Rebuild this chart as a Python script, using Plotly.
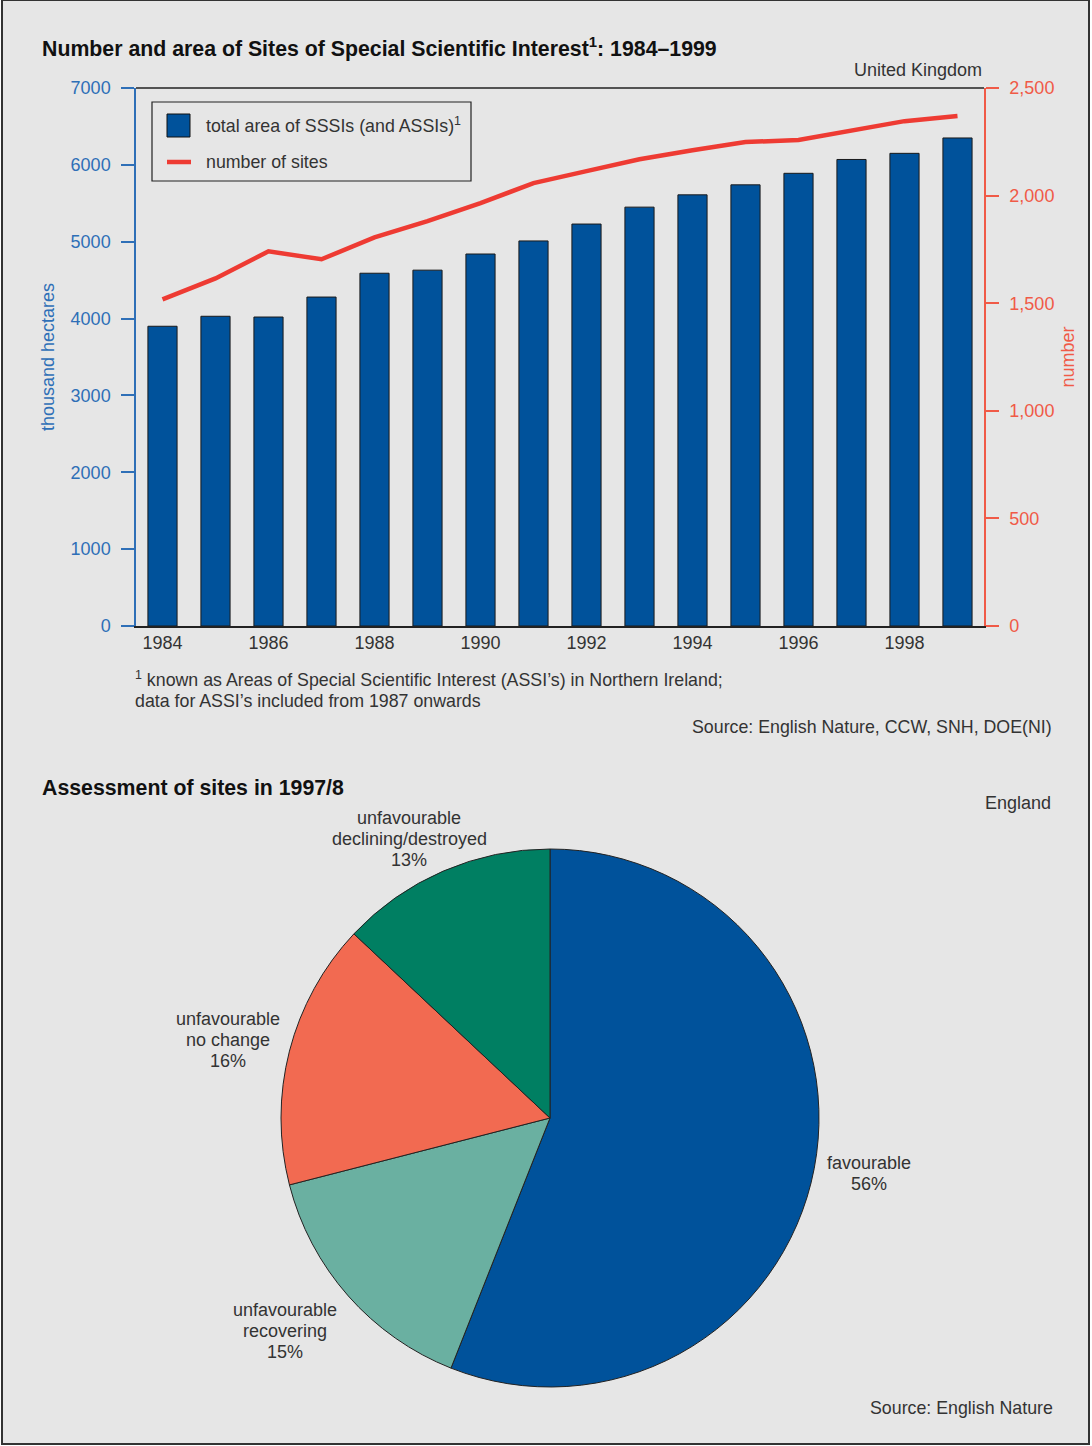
import plotly.graph_objects as go

years = list(range(1984, 2000))
area_thousand_ha = [3900, 4030, 4020, 4280, 4590, 4630, 4840, 5010, 5230, 5450, 5610, 5740, 5890, 6070, 6150, 6350]
number_of_sites = [1518, 1615, 1741, 1704, 1806, 1881, 1965, 2058, 2114, 2169, 2211, 2249, 2258, 2300, 2346, 2370]

pie_labels = ["favourable", "unfavourable recovering", "unfavourable no change", "unfavourable declining/destroyed"]
pie_values = [56, 15, 16, 13]

W, H = 1092, 1446
BG = "#e6e6e6"
BLUE = "#00529b"
AXBLUE = "#2e6fb7"
RED = "#ee3b33"
AXRED = "#f05a47"
TXT = "#333333"
FONT = "Liberation Sans"

def px(x):
    return x / W

def py(y):
    return 1 - y / H

fig = go.Figure()

fig.add_trace(go.Bar(
    x=years, y=area_thousand_ha, name="total area of SSSIs (and ASSIs)",
    marker=dict(color=BLUE, line=dict(color="#1a1a1a", width=1)),
    xaxis="x", yaxis="y", showlegend=False,
))
fig.add_trace(go.Scatter(
    x=years, y=number_of_sites, name="number of sites", mode="lines",
    line=dict(color=RED, width=4.5), xaxis="x", yaxis="y2", showlegend=False,
))

fig.add_trace(go.Pie(
    labels=pie_labels, values=pie_values, sort=False, direction="clockwise", rotation=0,
    marker=dict(colors=[BLUE, "#6ab0a1", "#f26a51", "#007f62"], line=dict(color="#222222", width=1)),
    textinfo="none", hoverinfo="label+percent", showlegend=False,
    domain=dict(x=[px(281), px(819)], y=[py(1387), py(849)]),
))

fig.update_layout(
    template="none",
    width=W, height=H, paper_bgcolor="white", plot_bgcolor="rgba(0,0,0,0)",
    margin=dict(l=0, r=0, t=0, b=0, pad=0, autoexpand=False),
    font=dict(family=FONT, size=18, color=TXT),
    bargap=0.45,
    showlegend=False,
    xaxis=dict(
        domain=[px(136), px(984)], range=[1983.5, 1999.5], tickmode="array",
        tickvals=years[::2], ticktext=[str(y) for y in years[::2]],
        showline=True, linecolor="#222222", linewidth=1.5, ticks="", showgrid=False,
        zeroline=False, tickfont=dict(color=TXT, size=18), anchor="y", automargin=False,
        ticklabelstandoff=0,
    ),
    yaxis=dict(
        domain=[py(626), py(88)], range=[0, 7000], dtick=1000, tickformat="d",
        showline=True, linecolor=AXBLUE, linewidth=1.5, ticks="outside", ticklen=13,
        tickcolor=AXBLUE, tickwidth=1.5, showgrid=False, zeroline=False,
        tickfont=dict(color=AXBLUE, size=18), ticklabelstandoff=7,
        title=dict(text="thousand hectares", font=dict(color=AXBLUE, size=18), standoff=11),
        anchor="x", automargin=False,
    ),
    yaxis2=dict(
        overlaying="y", side="right", range=[0, 2500], dtick=500, tickformat=",d",
        showline=True, linecolor=AXRED, linewidth=1.5, ticks="outside", ticklen=13,
        tickcolor=AXRED, tickwidth=1.5, showgrid=False, zeroline=False,
        tickfont=dict(color=AXRED, size=18), ticklabelstandoff=7,
        title=dict(text="number", font=dict(color=AXRED, size=18), standoff=8),
        anchor="x", automargin=False,
    ),
)

shapes = [
    # panel background and frame
    dict(type="rect", xref="paper", yref="paper", x0=px(2), x1=px(1089), y0=py(1444), y1=py(0),
         line=dict(color="#333333", width=2), fillcolor=BG, layer="below"),
    # top frame of the bar chart
    dict(type="line", xref="x domain", yref="y domain", x0=0, x1=1, y0=1, y1=1,
         line=dict(color="#222222", width=1.5)),
    # legend box
    dict(type="rect", xref="paper", yref="paper", x0=px(152), x1=px(471), y0=py(181), y1=py(102),
         line=dict(color="#222222", width=1.2), fillcolor=BG),
    # legend swatch: bars
    dict(type="rect", xref="paper", yref="paper", x0=px(167), x1=px(190), y0=py(137), y1=py(114),
         line=dict(color="#111111", width=1), fillcolor=BLUE),
    # legend swatch: line
    dict(type="line", xref="paper", yref="paper", x0=px(167), x1=px(191), y0=py(162), y1=py(162),
         line=dict(color=RED, width=4.5)),
]
fig.update_layout(shapes=shapes)

ann = []
def add(text, x, y, xanchor="left", yanchor="middle", size=17.8, color=TXT, align="left"):
    ann.append(dict(text=text, x=px(x), y=py(y), xref="paper", yref="paper",
                    xanchor=xanchor, yanchor=yanchor, showarrow=False, align=align,
                    font=dict(size=size, color=color, family=FONT)))

def add_lines(lines, x, y0, step=21, xanchor="center"):
    for i, t in enumerate(lines):
        add(t, x, y0 + i * step, xanchor=xanchor, align="center", size=18)

add("<b>Number and area of Sites of Special Scientific Interest<sup>1</sup>: 1984–1999</b>", 40, 48, size=21.3, color="#111111")
add("United Kingdom", 984, 70, xanchor="right", size=18)
add("total area of SSSIs (and ASSIs)<sup>1</sup>", 204, 125)
add("number of sites", 204, 162)
add("<sup>1</sup> known as Areas of Special Scientific Interest (ASSI’s) in Northern Ireland;", 133, 679)
add("data for ASSI’s included from 1987 onwards", 133, 701)
add("Source: English Nature, CCW, SNH, DOE(NI)", 1054, 727, xanchor="right")
add("<b>Assessment of sites in 1997/8</b>", 40, 788, size=21.3, color="#111111")
add("England", 1053, 803, xanchor="right", size=18)
add_lines(["unfavourable", "declining/destroyed", "13%"], 409, 818)
add_lines(["unfavourable", "no change", "16%"], 228, 1019)
add_lines(["unfavourable", "recovering", "15%"], 285, 1310)
add_lines(["favourable", "56%"], 869, 1163)
add("Source: English Nature", 1055, 1408, xanchor="right")
fig.update_layout(annotations=ann)

fig.write_html("out.html", config={"displayModeBar": False},
               post_script="document.body.style.margin='0px';")
